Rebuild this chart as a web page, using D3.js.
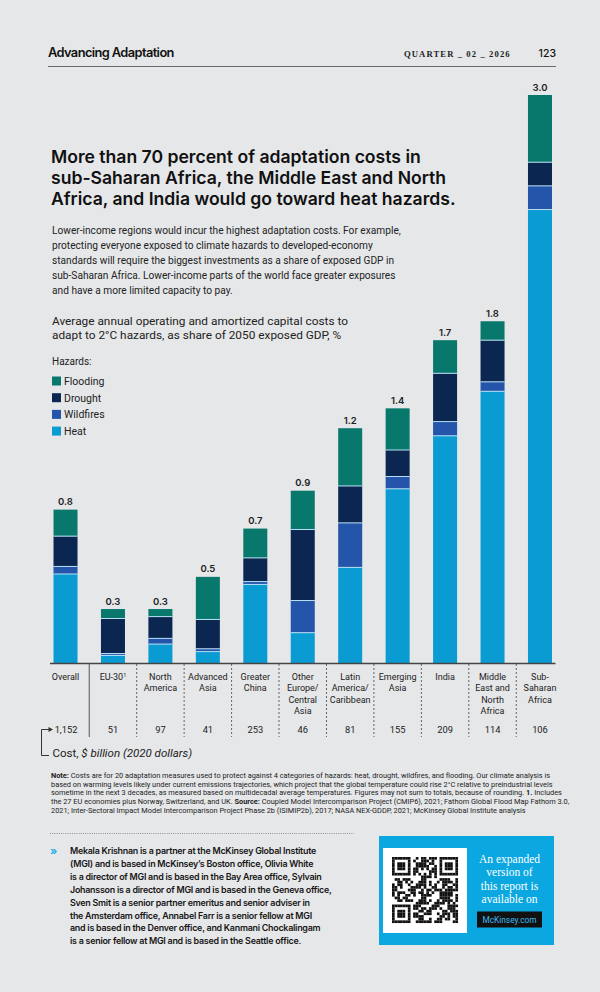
<!DOCTYPE html>
<html><head><meta charset="utf-8">
<script src="https://cdn.jsdelivr.net/npm/d3@7"></script>
<style>
body{margin:0;background:#e6e7e9;}
svg{display:block;}
</style></head><body>
<svg id="c" width="600" height="992"></svg>
<script>
// ---------- DATA ----------
const categories = ["Overall","EU-30","North America","Advanced Asia","Greater China","Other Europe/Central Asia","Latin America/Caribbean","Emerging Asia","India","Middle East and North Africa","Sub-Saharan Africa"];
const categoryLines = [["Overall"],["EU-30"],["North","America"],["Advanced","Asia"],["Greater","China"],["Other","Europe/","Central","Asia"],["Latin","America/","Caribbean"],["Emerging","Asia"],["India"],["Middle","East and","North","Africa"],["Sub-","Saharan","Africa"]];
const footnoteMarks = ["","1","","","","","","","","",""];
const heat      = [0.47, 0.04, 0.10, 0.06, 0.415, 0.16, 0.505, 0.92, 1.20, 1.435, 2.395];
const wildfires = [0.04, 0.01, 0.03, 0.015, 0.015, 0.17, 0.235, 0.065, 0.075, 0.05, 0.125];
const drought   = [0.16, 0.185, 0.115, 0.155, 0.125, 0.375, 0.195, 0.14, 0.255, 0.22, 0.125];
const flooding  = [0.14, 0.05, 0.04, 0.225, 0.155, 0.205, 0.305, 0.22, 0.175, 0.10, 0.355];
const totalLabels = ["0.8","0.3","0.3","0.5","0.7","0.9","1.2","1.4","1.7","1.8","3.0"];
const costs = ["1,152","51","97","41","253","46","81","155","209","114","106"];
const hazardKeys = ["heat","wildfires","drought","flooding"];
const legendItems = ["Flooding","Drought","Wildfires","Heat"];
const colors = {flooding:"#08786c", drought:"#0b2650", wildfires:"#2455aa", heat:"#0a9bd3"};
const yMax = 3.0;

// ---------- TEXT ----------
const titleLines = ["More than 70 percent of adaptation costs in","sub-Saharan Africa, the Middle East and North","Africa, and India would go toward heat hazards."];
const bodyLines = ["Lower-income regions would incur the highest adaptation costs. For example,","protecting everyone exposed to climate hazards to developed-economy","standards will require the biggest investments as a share of exposed GDP in","sub-Saharan Africa. Lower-income parts of the world face greater exposures","and have a more limited capacity to pay."];
const subtitleLines = ["Average annual operating and amortized capital costs to","adapt to 2°C hazards, as share of 2050 exposed GDP, %"];
const noteLines = [
 [["Note: ",true],["Costs are for 20 adaptation measures used to protect against 4 categories of hazards: heat, drought, wildfires, and flooding. Our climate analysis is",false]],
 [["based on warming levels likely under current emissions trajectories, which project that the global temperature could rise 2°C relative to preindustrial levels",false]],
 [["sometime in the next 3 decades, as measured based on multidecadal average temperatures. Figures may not sum to totals, because of rounding. ",false],["1. ",true],["Includes",false]],
 [["the 27 EU economies plus Norway, Switzerland, and UK. ",false],["Source: ",true],["Coupled Model Intercomparison Project (CMIP6), 2021; Fathom Global Flood Map Fathom 3.0,",false]],
 [["2021; Inter-Sectoral Impact Model Intercomparison Project Phase 2b (ISIMIP2b), 2017; NASA NEX-GDDP, 2021; McKinsey Global Institute analysis",false]]
];
const bioLines = ["Mekala Krishnan is a partner at the McKinsey Global Institute","(MGI) and is based in McKinsey’s Boston office, Olivia White","is a director of MGI and is based in the Bay Area office, Sylvain","Johansson is a director of MGI and is based in the Geneva office,","Sven Smit is a senior partner emeritus and senior adviser in","the Amsterdam office, Annabel Farr is a senior fellow at MGI","and is based in the Denver office, and Kanmani Chockalingam","is a senior fellow at MGI and is based in the Seattle office."];
const boxLines = ["An expanded","version of","this report is","available on"];

// ---------- DRAW ----------
const svg = d3.select("#c");
const SANS = "Inter, Roboto, 'Noto Sans', sans-serif";
const NARROW = "Roboto, 'Liberation Sans', sans-serif";
const SERIF = "'Liberation Serif', 'DejaVu Serif', serif";
svg.append("rect").attr("width",600).attr("height",992).attr("fill","#e6e7e9");

function fitGroup(sel, refIndex, width){
  const nodes = sel.nodes();
  const w = nodes[refIndex].getComputedTextLength();
  const fs = parseFloat(d3.select(nodes[0]).attr("font-size"));
  sel.attr("font-size", fs*width/w);
}

// header
const hA = svg.append("text").attr("x",48).attr("y",57).attr("font-family",SANS).attr("font-weight",600)
  .attr("font-size",14).attr("letter-spacing",-0.6).attr("fill","#111").text("Advancing Adaptation");
fitGroup(hA,0,127);
const hQ = svg.append("text").attr("x",404).attr("y",57).attr("font-family",SERIF).attr("font-weight",700)
  .attr("font-size",8.5).attr("letter-spacing",1.1).attr("fill","#222").text("QUARTER _ 02 _ 2026");
fitGroup(hQ,0,107);
svg.append("text").attr("x",556).attr("y",57).attr("text-anchor","end").attr("font-family",SANS).attr("font-weight",500)
  .attr("font-size",10.5).attr("fill","#111").text("123");
svg.append("line").attr("x1",48).attr("x2",556).attr("y1",66.5).attr("y2",66.5).attr("stroke","#6a6a6a").attr("stroke-width",1.2);

// title
const tSel = svg.append("g").selectAll("text").data(titleLines).join("text")
  .attr("x",51).attr("y",(d,i)=>163+i*20.8).attr("font-family",SANS).attr("font-weight",600)
  .attr("font-size",18).attr("fill","#111").text(d=>d);
fitGroup(tSel,0,370);

// body
const bSel = svg.append("g").selectAll("text").data(bodyLines).join("text")
  .attr("x",52).attr("y",(d,i)=>233.5+i*15.1).attr("font-family",NARROW)
  .attr("font-size",10.5).attr("fill","#222").text(d=>d);
fitGroup(bSel,0,349);

// subtitle
const sSel = svg.append("g").selectAll("text").data(subtitleLines).join("text")
  .attr("x",52).attr("y",(d,i)=>325+i*14).attr("font-family",NARROW)
  .attr("font-size",12).attr("fill","#222").text(d=>d);
fitGroup(sSel,0,296);

// legend
svg.append("text").attr("x",52).attr("y",365).attr("font-family",NARROW).attr("font-size",10).attr("fill","#222").text("Hazards:");
const lg = svg.append("g").selectAll("g").data(legendItems).join("g")
  .attr("transform",(d,i)=>`translate(52,${381+i*16.7})`);
lg.append("rect").attr("x",0).attr("y",-4.5).attr("width",9).attr("height",9).attr("fill",d=>colors[d.toLowerCase()]);
lg.append("text").attr("x",12).attr("y",3.8).attr("font-family",NARROW).attr("font-size",10.5).attr("fill","#222").text(d=>d);

// scales
const x = d3.scaleBand().domain(categories).range([50,555.5]).paddingInner(0.494).paddingOuter(0.074);
const y = d3.scaleLinear().domain([0,yMax]).range([663,95]);
const table = categories.map((c,i)=>({cat:c, heat:heat[i], wildfires:wildfires[i], drought:drought[i], flooding:flooding[i]}));
const series = d3.stack().keys(hazardKeys)(table);

const gBars = svg.append("g");
gBars.selectAll("g").data(series).join("g").attr("fill",d=>colors[d.key])
  .selectAll("rect").data(d=>d).join("rect")
  .attr("x",d=>x(d.data.cat)).attr("width",x.bandwidth())
  .attr("y",d=>y(d[1])).attr("height",d=>y(d[0])-y(d[1]));
// segment separators
gBars.append("g").selectAll("g").data(series.slice(0,3)).join("g")
  .selectAll("line").data(d=>d).join("line")
  .attr("x1",d=>x(d.data.cat)).attr("x2",d=>x(d.data.cat)+x.bandwidth())
  .attr("y1",d=>y(d[1])).attr("y2",d=>y(d[1])).attr("stroke","#b8e0f4").attr("stroke-width",1);

// totals
const tops = series[series.length-1];
svg.append("g").selectAll("text").data(tops).join("text")
  .attr("x",d=>x(d.data.cat)+x.bandwidth()/2).attr("y",d=>y(d[1])-4.5)
  .attr("text-anchor","middle").attr("font-family",SANS).attr("font-weight",600).attr("font-size",9.5).attr("fill","#222")
  .text((d,i)=>totalLabels[i]);

// baseline axis
svg.append("line").attr("x1",50).attr("x2",555.5).attr("y1",y(0)+0.5).attr("y2",y(0)+0.5).attr("stroke","#444").attr("stroke-width",1.4);

// dividers
const divs = categories.slice(1).map((c,i)=>({x:(x(categories[i])+x.bandwidth()+x(c))/2, solid:i===0}));
svg.append("g").selectAll("line").data(divs).join("line")
  .attr("x1",d=>d.x).attr("x2",d=>d.x).attr("y1",y(0)+1).attr("y2",737)
  .attr("stroke","#555").attr("stroke-width",d=>d.solid?1:0.9).attr("stroke-dasharray",d=>d.solid?null:"2,2");

// category labels
const cl = svg.append("g").selectAll("text").data(categories).join("text")
  .attr("x",d=>x(d)+x.bandwidth()/2).attr("text-anchor","middle")
  .attr("font-family",NARROW).attr("font-size",9).attr("fill","#222");
cl.each(function(d,i){
  const t = d3.select(this);
  categoryLines[i].forEach((ln,j)=>{
    const ts = t.append("tspan").attr("x",x(d)+x.bandwidth()/2).attr("y",680+j*11.4).text(ln);
    if(footnoteMarks[i] && j===categoryLines[i].length-1){
      t.append("tspan").attr("font-size",5.5).attr("dy",-3.5).text(footnoteMarks[i]);
    }
  });
});

// cost row
svg.append("g").selectAll("text").data(categories).join("text")
  .attr("x",d=>x(d)+x.bandwidth()/2+(d==="Overall"?0.5:0)).attr("y",733).attr("text-anchor","middle")
  .attr("font-family",NARROW).attr("font-size",9.3).attr("fill","#222").text((d,i)=>costs[i]);
svg.append("path").attr("d","M49,729.5 L41.5,729.5 L41.5,755.5 L49,755.5").attr("fill","none").attr("stroke","#333").attr("stroke-width",1);
svg.append("path").attr("d","M53,729.5 L48.5,727 L48.5,732 Z").attr("fill","#333");
const costT = svg.append("text").attr("x",52.5).attr("y",756.5).attr("font-family",NARROW).attr("font-size",11.5).attr("fill","#222");
costT.append("tspan").text("Cost, ");
costT.append("tspan").attr("font-style","italic").text("$ billion (2020 dollars)");

// note
const nSel = svg.append("g").selectAll("text").data(noteLines).join("text")
  .attr("x",51).attr("y",(d,i)=>778+i*8.7).attr("font-family",NARROW).attr("font-size",6.5).attr("fill","#222");
nSel.each(function(parts){
  const t=d3.select(this);
  parts.forEach(p=>t.append("tspan").attr("font-weight",p[1]?700:400).text(p[0]));
});
fitGroup(nSel,1,503);

// dotted separator
svg.append("line").attr("x1",50).attr("x2",354).attr("y1",833.5).attr("y2",833.5)
  .attr("stroke","#777").attr("stroke-width",0.8).attr("stroke-dasharray","1,1.2");

// bio
svg.append("text").attr("x",50).attr("y",855).attr("font-family",SANS).attr("font-weight",700).attr("font-size",11).attr("fill","#2aaee6").text("»");
const bioSel = svg.append("g").selectAll("text").data(bioLines).join("text")
  .attr("x",70).attr("y",(d,i)=>854+i*12.9).attr("font-family",SANS).attr("font-weight",600)
  .attr("font-size",10).attr("letter-spacing",-0.25).attr("fill","#161616").text(d=>d);
fitGroup(bioSel,3,264);

// box
svg.append("rect").attr("x",379).attr("y",836).attr("width",175).attr("height",109).attr("fill","#0aa7e0");
svg.append("rect").attr("x",383).attr("y",848).attr("width",84).attr("height",85).attr("fill","#fff");
// decorative QR-like pattern
const N=25, mod=2.64, qx=392, qy=857;
const seed="https://www.mckinsey.com/mgi/our-research/a-proactive-approach-to-climate-adaptation";
const cells=[];
function finder(cx,cy){for(let r=0;r<7;r++)for(let c=0;c<7;c++){const on=(r===0||r===6||c===0||c===6)||(r>=2&&r<=4&&c>=2&&c<=4);cells.push([cx+c,cy+r,on]);}}
finder(0,0);finder(N-7,0);finder(0,N-7);
const inFinder=(c,r)=>(c<8&&r<8)||(c>=N-8&&r<8)||(c<8&&r>=N-8);
let k=0;
for(let r=0;r<N;r++)for(let c=0;c<N;c++){
  if(inFinder(c,r)) continue;
  let on;
  if(r===6) on=c%2===0; else if(c===6) on=r%2===0;
  else { const ch=seed.charCodeAt(k%seed.length); on=((ch>>((r+c)%7))&1)===1; k++; }
  cells.push([c,r,on]);
}
svg.append("g").selectAll("rect").data(cells.filter(d=>d[2])).join("rect")
  .attr("x",d=>qx+d[0]*mod).attr("y",d=>qy+d[1]*mod).attr("width",mod+0.05).attr("height",mod+0.05).attr("fill","#111");
svg.append("g").selectAll("text").data(boxLines).join("text")
  .attr("x",509.5).attr("y",(d,i)=>863+i*13.3).attr("text-anchor","middle").attr("font-family",SERIF)
  .attr("font-size",11.5).attr("fill","#fff").text(d=>d);
svg.append("rect").attr("x",477).attr("y",911.5).attr("width",65).attr("height",16).attr("fill","#111");
svg.append("text").attr("x",509.5).attr("y",922.5).attr("text-anchor","middle").attr("font-family",NARROW)
  .attr("font-size",8.3).attr("fill","#3dbaf0").text("McKinsey.com");
</script>
</body></html>
